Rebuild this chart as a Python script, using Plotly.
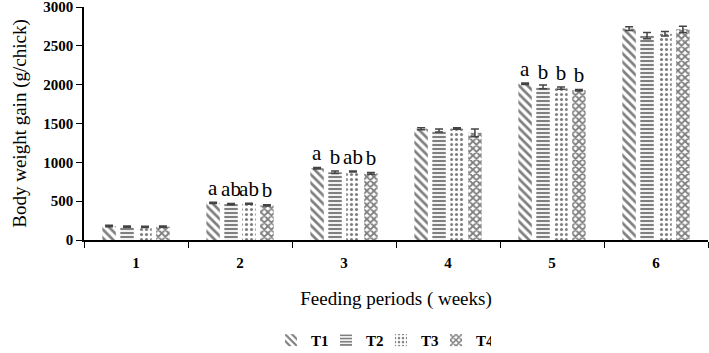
import plotly.graph_objects as go

weeks = ["1", "2", "3", "4", "5", "6"]
series_names = ["T1", "T2", "T3", "T4"]
T1 = [180, 478, 925, 1432, 2012, 2722]
T2 = [172, 462, 872, 1410, 1972, 2632]
T3 = [170, 466, 882, 1436, 1955, 2655]
T4 = [172, 445, 858, 1380, 1928, 2712]
T1_err = [10, 8, 10, 12, 10, 25]
T2_err = [8, 8, 15, 20, 25, 40]
T3_err = [8, 6, 8, 10, 15, 30]
T4_err = [8, 8, 12, 50, 10, 40]
T1_lbl = ["", "a", "a", "", "a", ""]
T2_lbl = ["", "ab", "b", "", "b", ""]
T3_lbl = ["", "ab", "ab", "", "b", ""]
T4_lbl = ["", "b", "b", "", "b", ""]

values = [T1, T2, T3, T4]
errors = [T1_err, T2_err, T3_err, T4_err]
labels = [T1_lbl, T2_lbl, T3_lbl, T4_lbl]
patterns = [
    dict(shape="\\", size=6, solidity=0.45),
    dict(shape="-", size=4, solidity=0.55),
    dict(shape=".", size=5, solidity=0.3),
    dict(shape="x", size=5, solidity=0.6),
]

serif = "Liberation Serif"

fig = go.Figure()
for name, v, e, l, p in zip(series_names, values, errors, labels, patterns):
    fig.add_trace(go.Bar(
        x=weeks, y=v, name=name,
        text=l, textposition="outside", constraintext="none", cliponaxis=False,
        textfont=dict(family=serif, size=21, color="black"),
        marker=dict(color="white", line=dict(width=0),
                    pattern=dict(fgcolor="black", bgcolor="white", **p)),
        error_y=dict(type="data", array=e, visible=True, color="#444444",
                     thickness=1.5, width=4),
    ))

fig.update_layout(
    width=709, height=353,
    margin=dict(l=84, r=1, t=7, b=113, autoexpand=False),
    paper_bgcolor="white", plot_bgcolor="white",
    barmode="group", bargap=0.31, bargroupgap=0.25,
    font=dict(family=serif, color="black"),
    showlegend=True,
    legend=dict(orientation="h", x=0.476, xanchor="center", y=-0.36, yanchor="top",
                font=dict(family=serif, size=15, color="black", weight="bold"),
                itemwidth=30, entrywidth=10, traceorder="normal", tracegroupgap=0),
    xaxis=dict(showline=True, linecolor="black", linewidth=1.5, automargin=False,
               ticks="outside", tickson="boundaries", ticklen=6, tickcolor="black",
               ticklabelstandoff=8,
               tickfont=dict(family=serif, size=15, color="black", weight="bold"),
               title=dict(text="Feeding periods ( weeks)", font=dict(family=serif, size=19), standoff=22),
               showgrid=False),
    yaxis=dict(range=[0, 3000], dtick=500, showline=True, linecolor="black", linewidth=1.5,
               automargin=False, ticklabeloverflow="allow",
               ticks="outside", ticklen=6, tickcolor="black",
               tickfont=dict(family=serif, size=15, color="black", weight="bold"),
               title=dict(text="Body weight gain (g/chick)", font=dict(family=serif, size=19), standoff=12),
               showgrid=False, zeroline=False),
)

fig.write_html("out.html", config={"displayModeBar": False},
               post_script="document.body.style.margin='0';document.body.style.overflow='hidden';")
